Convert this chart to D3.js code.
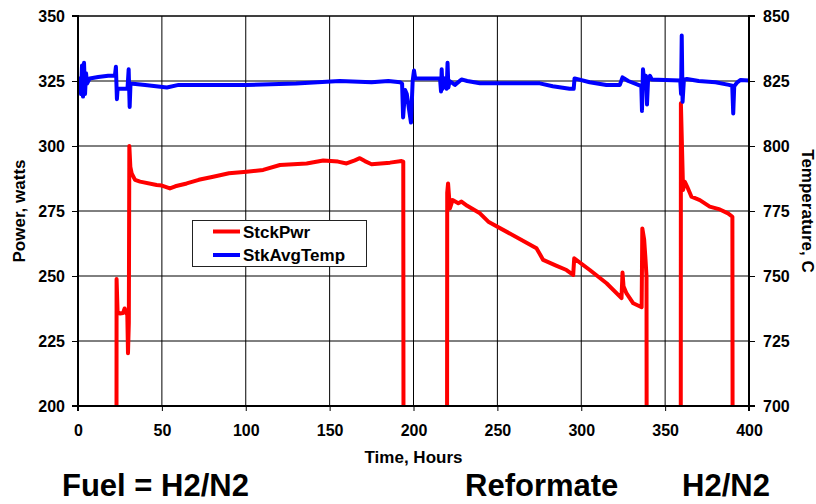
<!DOCTYPE html>
<html>
<head>
<meta charset="utf-8">
<script src="https://cdn.jsdelivr.net/npm/d3@7"></script>
<style>
  html, body { margin: 0; padding: 0; background: #fff; }
  svg { display: block; }
  text { font-family: "Liberation Sans", Arial, sans-serif; font-weight: bold; fill: #000; }
</style>
</head>
<body>
<svg id="chart" width="816" height="504"></svg>
<script>
// ---- Data ----
const xTicks = [0, 50, 100, 150, 200, 250, 300, 350, 400];
const powerTicks = [200, 225, 250, 275, 300, 325, 350];
const tempTicks = [700, 725, 750, 775, 800, 825, 850];
const seriesNames = ["StckPwr", "StkAvgTemp"];
const bottomLabels = ["Fuel = H2/N2", "Reformate", "H2/N2"];

// StckPwr (watts) vs time (hours); 0 = stack off (below axis)
const pwrHours = [0, 22.8, 23.0, 23.6, 25, 26.9, 27.8, 28.6, 29.4, 29.8, 30.3, 30.6, 31.2, 32, 34, 37,
  46.9, 50, 54.8, 58, 64.8, 72, 80.6, 90, 100.5, 110.4, 120.4, 136.3, 146.2, 155, 160.1, 165, 168,
  171, 175, 186, 192.9, 193.9, 194.3, 219.8, 220.1, 220.6, 221.7, 223.3, 226.7, 228.6, 232, 239.6,
  244.6, 273.3, 277.3, 285, 291.2, 295.2, 295.8, 305.1, 315.1, 324, 324.6, 325.2, 327, 331, 336,
  336.4, 337.5, 338.2, 338.9, 339.3, 359.2, 359.4, 360.7, 361.7, 363.1, 365.7, 370.7, 376.6,
  382.6, 387.5, 390.1, 390.5, 400];
const pwrWatts = [0, 0, 248.8, 236, 235.6, 235.8, 237.5, 236, 235, 220.3, 232, 300, 292, 289.5, 287, 286.3,
  285, 284.8, 283.7, 284.5, 285.6, 287, 288.2, 289.5, 290.1, 290.8, 292.7, 293.3, 294.4, 294, 293.3, 294.5, 295.3,
  294.2, 293, 293.6, 294.2, 294, 0, 0, 282, 285.6, 276, 279.2, 278, 278.6, 277, 274.1,
  270.9, 260.7, 256.2, 254, 252.3, 250.4, 256.8, 252.3, 247.2, 241.5, 251.3, 246, 243.3, 239.5, 238,
  268.3, 264, 257.4, 250, 0, 0, 316.4, 283.1, 286.3, 284.4, 280.5, 279.2, 276.7,
  275.6, 274.1, 272.8, 0, 0];

// StkAvgTemp (deg C) vs time (hours)
const tempHours = [0, 1.2, 1.8, 2.4, 3.0, 3.6, 4.2, 4.8, 5.4, 7, 12, 18, 22, 22.6, 23.2, 23.6, 29.5, 30.2,
  30.8, 31.3, 40, 53, 60, 100, 130, 156, 175, 185, 192, 193.2, 193.8, 195, 196, 198.5, 199.5, 200.3,
  201, 215.8, 216.4, 216.8, 217.3, 218.5, 219.8, 220.3, 220.8, 221.5, 224.7, 228.6, 232, 239.6, 275.3,
  283, 293, 295.5, 296, 305, 315, 323, 324.6, 328, 334, 335.8, 336.2, 336.8, 337.5, 338.6, 339.2,
  339.8, 341, 342, 350, 359, 359.5, 359.9, 360.4, 361.2, 363, 370, 380, 388, 390, 390.6, 391.2, 393,
  395, 400];
const tempC = [823.5, 826, 820, 831, 819, 832, 820, 828, 824, 826, 826.5, 827, 827, 830.5, 818, 822, 822, 829.5,
  815, 824, 823.5, 822.5, 823.5, 823.5, 824, 825, 824.5, 825, 824.5, 824, 811, 821.5, 820, 809, 825, 829,
  826, 826, 821, 829.5, 822, 826, 822, 832, 822.5, 825, 823.5, 825.6, 825, 824.1, 824.1,
  823, 822, 822, 826, 824.5, 823.5, 823.5, 826.4, 825, 823.5, 823, 813.5, 829.5, 825, 827, 816,
  825, 827, 825.6, 825.4, 825.2, 820, 842.5, 817, 825.5, 825.8, 825, 824.5, 823.5, 823.2, 812.5, 823, 824.5,
  825.4, 825.2];

// ---- Layout ----
const svg = d3.select("#chart");
const L = 78, R = 749, T = 16, B = 406;

const x = d3.scaleLinear().domain([0, 400]).range([L, R]);
const yP = d3.scaleLinear().domain([200, 350]).range([B, T]);
const yT = d3.scaleLinear().domain([700, 850]).range([B, T]);

// grid
const grid = svg.append("g");
grid.selectAll("line.v").data(xTicks.slice(1, -1)).join("line")
  .attr("x1", d => x(d)).attr("x2", d => x(d)).attr("y1", T).attr("y2", B)
  .attr("stroke", "#000").attr("stroke-width", 1);
grid.selectAll("line.h").data(powerTicks.slice(1)).join("line")
  .attr("x1", L).attr("x2", R).attr("y1", d => yP(d)).attr("y2", d => yP(d))
  .attr("stroke", "#000").attr("stroke-width", 1);

// clip
svg.append("clipPath").attr("id", "plotclip").append("rect")
  .attr("x", L).attr("y", T - 4).attr("width", R - L).attr("height", B - T + 4);

const plot = svg.append("g").attr("clip-path", "url(#plotclip)");
const pwrData = pwrHours.map((h, i) => [h, pwrWatts[i]]);
const tempData = tempHours.map((h, i) => [h, tempC[i]]);

plot.append("path").datum(pwrData)
  .attr("d", d3.line().x(d => x(d[0])).y(d => yP(d[1])))
  .attr("fill", "none").attr("stroke", "#ff0000").attr("stroke-width", 4)
  .attr("stroke-linejoin", "round").attr("stroke-linecap", "round");
plot.append("path").datum(tempData)
  .attr("d", d3.line().x(d => x(d[0])).y(d => yT(d[1])))
  .attr("fill", "none").attr("stroke", "#0000ff").attr("stroke-width", 4)
  .attr("stroke-linejoin", "round").attr("stroke-linecap", "round");

// axes
const fmt = d3.format("d");
const axL = svg.append("g").attr("transform", `translate(${L},0)`)
  .call(d3.axisLeft(yP).tickValues(powerTicks).tickFormat(fmt).tickSize(6).tickPadding(7));
const axR = svg.append("g").attr("transform", `translate(${R},0)`)
  .call(d3.axisRight(yT).tickValues(tempTicks).tickFormat(fmt).tickSize(6).tickPadding(8));
const axB = svg.append("g").attr("transform", `translate(0,${B})`)
  .call(d3.axisBottom(x).tickValues(xTicks).tickFormat(fmt).tickSize(5).tickPadding(14));
[axL, axR, axB].forEach(a => {
  a.select(".domain").attr("stroke", "#000").attr("stroke-width", 2);
  a.selectAll(".tick line").attr("stroke", "#000").attr("stroke-width", 1);
  a.selectAll(".tick text").style("font-size", "16px").style("font-weight", "bold")
    .style("font-family", '"Liberation Sans", Arial, sans-serif').attr("fill", "#000");
});
axL.select(".domain").attr("d", `M-6,${T}H0V${B}H-6`);
axR.select(".domain").attr("d", `M6,${T}H0V${B}H6`);
axB.select(".domain").attr("d", `M${L},5V0H${R}V5`);
// top border
svg.append("line").attr("x1", L).attr("x2", R).attr("y1", T).attr("y2", T)
  .attr("stroke", "#000").attr("stroke-width", 1);

// axis titles
svg.append("text").attr("transform", `translate(25,${(T + B) / 2}) rotate(-90)`)
  .attr("text-anchor", "middle").style("font-size", "17px").text("Power, watts");
svg.append("text").attr("transform", `translate(802,${(T + B) / 2}) rotate(90)`)
  .attr("text-anchor", "middle").style("font-size", "17px").text("Temperature, C");
svg.append("text").attr("x", (L + R) / 2).attr("y", 463)
  .attr("text-anchor", "middle").style("font-size", "17px").text("Time, Hours");

// legend
const lg = svg.append("g");
lg.append("rect").attr("x", 192.5).attr("y", 220.5).attr("width", 174).attr("height", 46)
  .attr("fill", "#fff").attr("stroke", "#222").attr("stroke-width", 1);
const legColors = ["#ff0000", "#0000ff"];
const legY = [231.5, 255];
seriesNames.forEach((n, i) => {
  lg.append("line").attr("x1", 213).attr("x2", 240).attr("y1", legY[i]).attr("y2", legY[i])
    .attr("stroke", legColors[i]).attr("stroke-width", 4);
  lg.append("text").attr("x", 243).attr("y", legY[i] + 6.3).style("font-size", "17px").text(n);
});

// bottom annotations
const botX = [62, 465, 682];
bottomLabels.forEach((t, i) => {
  svg.append("text").attr("x", botX[i]).attr("y", 496).style("font-size", "31px").text(t);
});
</script>
</body>
</html>
